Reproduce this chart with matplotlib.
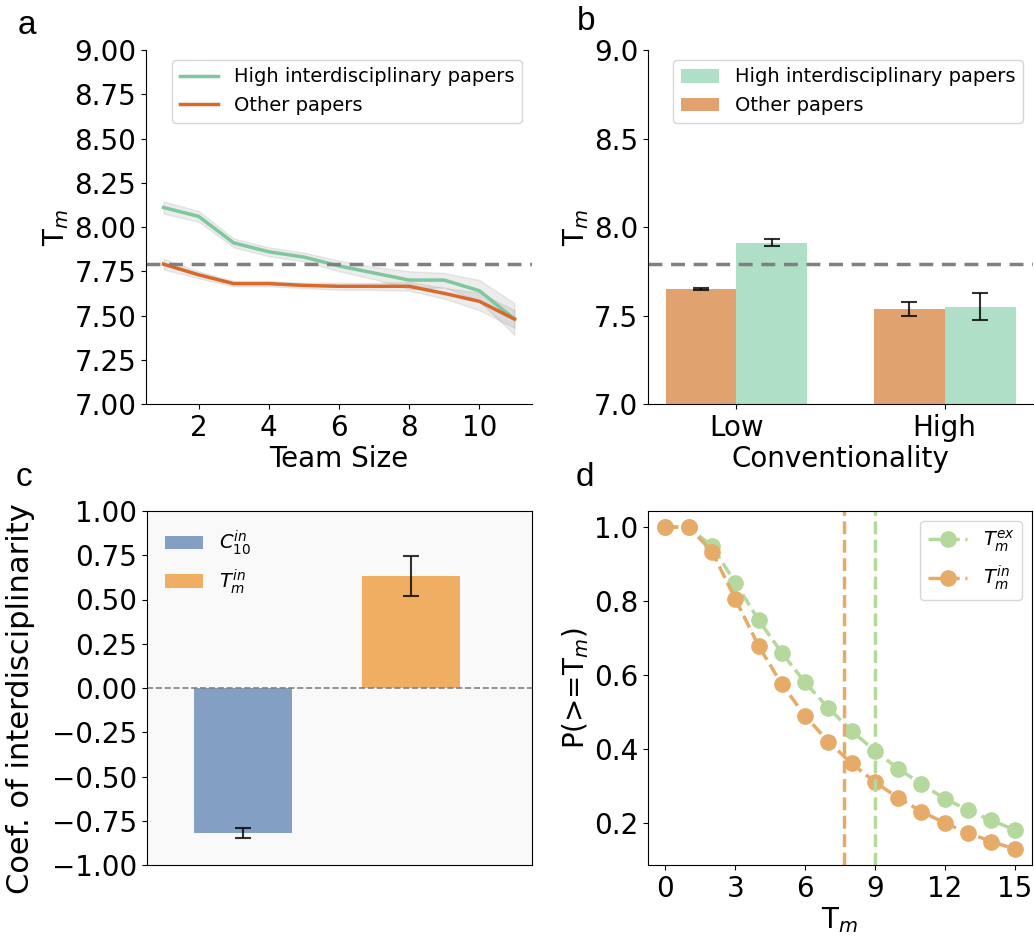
import numpy as np
import matplotlib.pyplot as plt

# panel a: Tm vs team size
team_size = [1, 2, 3, 4, 5, 6, 7, 8, 9, 10, 11]
high_tm = [8.11, 8.06, 7.91, 7.86, 7.83, 7.78, 7.74, 7.70, 7.70, 7.64, 7.48]
high_ci = [0.035, 0.03, 0.025, 0.025, 0.025, 0.03, 0.035, 0.05, 0.04, 0.06, 0.09]
other_tm = [7.79, 7.73, 7.68, 7.68, 7.67, 7.665, 7.665, 7.665, 7.625, 7.58, 7.48]
other_ci = [0.03, 0.02, 0.015, 0.015, 0.015, 0.02, 0.02, 0.025, 0.03, 0.05, 0.05]
baseline_tm = 7.79

# panel b: conventionality
conv_labels = ['Low', 'High']
conv_other = [7.65, 7.535]
conv_other_err = [0.005, 0.04]
conv_high = [7.91, 7.55]
conv_high_err = [0.02, 0.075]

# panel c: regression coefficients
coef_labels = [r'$C_{10}^{in}$', r'$T_m^{in}$']
coef_vals = [-0.82, 0.63]
coef_err = [0.03, 0.113]

# panel d: cumulative distributions
tm_vals = list(range(16))
p_ex = [1.0, 1.0, 0.948, 0.85, 0.749, 0.66, 0.58, 0.511, 0.449, 0.395,
        0.347, 0.305, 0.266, 0.235, 0.207, 0.182]
p_in = [1.0, 1.0, 0.934, 0.806, 0.679, 0.575, 0.49, 0.42, 0.361, 0.311,
        0.268, 0.231, 0.2, 0.173, 0.15, 0.13]
mean_in = 7.66
mean_ex = 9.02

W, H = 1034, 940
fig = plt.figure(figsize=(W / 100, H / 100), dpi=100)


def rect(l, r, t, b):
    return [l / W, 1 - b / H, (r - l) / W, (b - t) / H]


fs = 20
c_green = '#7dc89c'
c_orange = '#d9692b'

# ---- a
ax = fig.add_axes(rect(146, 532, 50, 404))
x = np.array(team_size)
hi = np.array(high_tm)
ot = np.array(other_tm)
ax.fill_between(x, hi - np.array(high_ci), hi + np.array(high_ci), color='gray', alpha=0.15, lw=1)
ax.fill_between(x, ot - np.array(other_ci), ot + np.array(other_ci), color='gray', alpha=0.15, lw=1)
ax.plot(x, hi, color=c_green, lw=2.5, label='High interdisciplinary papers')
ax.plot(x, ot, color=c_orange, lw=2.5, label='Other papers')
ax.axhline(baseline_tm, color='gray', ls='--', lw=2.5, dashes=(4, 2.5))
ax.set_ylim(7.0, 9.0)
ax.set_yticks(np.arange(7.0, 9.01, 0.25))
ax.set_xticks([2, 4, 6, 8, 10])
ax.set_xlim(0.5, 11.5)
ax.set_xlabel('Team Size', fontsize=fs, labelpad=2)
ax.set_ylabel(r'T$_m$', fontsize=fs, labelpad=2)
ax.tick_params(labelsize=fs)
ax.spines['top'].set_visible(False)
ax.spines['right'].set_visible(False)
ax.legend(loc='upper right', fontsize=14, framealpha=0.8)

# ---- b
ax = fig.add_axes(rect(648, 1033, 50, 404))
xb = np.arange(len(conv_labels))
bw = 0.34
ax.bar(xb - bw / 2, conv_other, bw, color='#e0a370', label='Other papers')
ax.bar(xb + bw / 2, conv_high, bw, color='#b0dfc8', label='High interdisciplinary papers')
ax.errorbar(xb - bw / 2, conv_other, yerr=conv_other_err, fmt='none', ecolor='black',
            capsize=6, elinewidth=1.5, capthick=1.5, alpha=0.8)
ax.errorbar(xb + bw / 2, conv_high, yerr=conv_high_err, fmt='none', ecolor='black',
            capsize=6, elinewidth=1.5, capthick=1.5, alpha=0.8)
ax.axhline(baseline_tm, color='gray', ls='--', lw=2.5, dashes=(4, 2.5))
ax.set_ylim(7.0, 9.0)
ax.set_yticks([7.0, 7.5, 8.0, 8.5, 9.0])
ax.set_xticks(xb)
ax.set_xticklabels(conv_labels)
ax.set_xlabel('Conventionality', fontsize=fs, labelpad=2)
ax.set_ylabel(r'T$_m$', fontsize=fs, labelpad=2)
ax.tick_params(labelsize=fs)
ax.spines['top'].set_visible(False)
ax.spines['right'].set_visible(False)
h, l = ax.get_legend_handles_labels()
ax.legend(h[::-1], l[::-1], loc='upper right', fontsize=14, framealpha=0.8)

# ---- c
ax = fig.add_axes(rect(147, 532, 511, 865))
ax.set_facecolor('#f9f9f9')
xc = np.arange(len(coef_vals))
bars = ax.bar(xc, coef_vals, 0.58, color=['#849fc4', '#f0ae63'])
ax.errorbar(xc, coef_vals, yerr=coef_err, fmt='none', ecolor='black',
            capsize=6, elinewidth=1.5, capthick=1.5, alpha=0.8)
ax.axhline(0, color='gray', ls='--', lw=1.2)
ax.set_xlim(-0.57, 1.72)
ax.set_ylim(-1.0, 1.0)
ax.set_yticks(np.arange(-1.0, 1.01, 0.25))
ax.set_xticks([])
ax.set_ylabel('Coef. of interdisciplinarity', fontsize=22)
ax.yaxis.set_label_coords(-0.29, 0.47)
ax.tick_params(labelsize=fs)
ax.legend(bars, coef_labels, loc='upper left', fontsize=14, frameon=False)

# ---- d
ax = fig.add_axes(rect(648, 1032, 511, 865))
ax.plot(tm_vals, p_ex, '--o', color='#b5d89d', lw=2.5, ms=11, label=r'$T_m^{ex}$')
ax.plot(tm_vals, p_in, '--o', color='#e6ab68', lw=2.5, ms=11, label=r'$T_m^{in}$')
ax.axvline(mean_in, color='#e6ab68', ls='--', lw=2.5)
ax.axvline(mean_ex, color='#b5d89d', ls='--', lw=2.5)
ax.set_xticks([0, 3, 6, 9, 12, 15])
ax.set_yticks([0.2, 0.4, 0.6, 0.8, 1.0])
ax.set_xlabel(r'T$_m$', fontsize=fs, labelpad=2)
ax.set_ylabel(r'P(>=T$_m$)', fontsize=fs, labelpad=2)
ax.tick_params(labelsize=fs)
ax.legend(loc='upper right', fontsize=14)

# panel letters
for s, px, py in [('a', 27, 25), ('b', 586, 22), ('c', 24, 478), ('d', 585, 478)]:
    fig.text(px / W, 1 - py / H, s, fontsize=24, family='Liberation Sans', ha='center', va='center')

fig.savefig('out.png', dpi=100)
